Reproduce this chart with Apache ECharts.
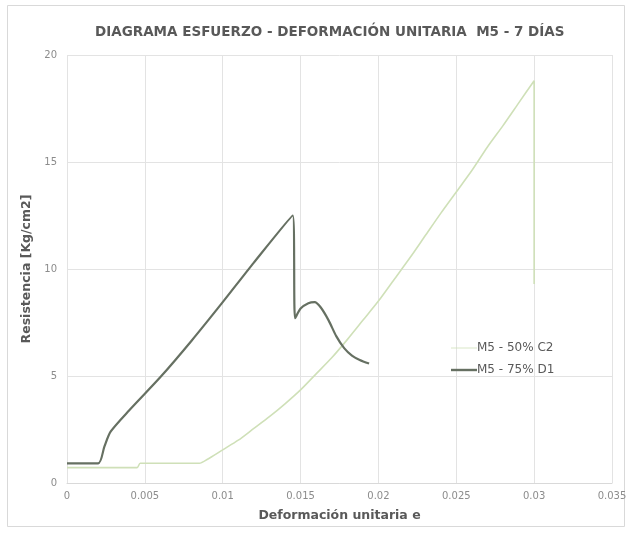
<!DOCTYPE html>
<html>
<head>
<meta charset="utf-8">
<script src="https://cdn.jsdelivr.net/npm/echarts@6/dist/echarts.min.js"></script>
<style>
  html, body { margin: 0; padding: 0; background: #fff; }
  #chart { width: 630px; height: 534px; }
</style>
</head>
<body>
<div id="chart"></div>
<script>
// Stress–strain data, two specimens (strain e, stress Kg/cm2)
const strainC2 = [0, 0.0045, 0.0047, 0.0085, 0.009, 0.010, 0.011, 0.012, 0.013, 0.014, 0.015, 0.016, 0.017, 0.018, 0.019, 0.020, 0.021, 0.022, 0.023, 0.024, 0.025, 0.026, 0.027, 0.028, 0.029, 0.030, 0.030];
const stressC2 = [0.72, 0.72, 0.92, 0.92, 1.1, 1.55, 2.0, 2.55, 3.1, 3.7, 4.35, 5.1, 5.85, 6.7, 7.6, 8.5, 9.5, 10.5, 11.55, 12.6, 13.6, 14.6, 15.7, 16.7, 17.75, 18.8, 9.3];

const strainD1 = [0, 0.002, 0.0024, 0.0028, 0.004, 0.006, 0.008, 0.010, 0.012, 0.0145, 0.01465, 0.015, 0.0155, 0.0159, 0.0163, 0.0168, 0.0173, 0.0178, 0.0183, 0.0188, 0.0194];
const stressD1 = [0.92, 0.92, 1.7, 2.4, 3.4, 4.95, 6.65, 8.45, 10.3, 12.5, 7.7, 8.15, 8.4, 8.45, 8.2, 7.6, 6.85, 6.3, 5.95, 5.75, 5.58];

const seriesNames = ['M5 - 50% C2', 'M5 - 75% D1'];
const xTicks = { min: 0, max: 0.035, interval: 0.005 };
const yTicks = { min: 0, max: 20, interval: 5 };

const pairs = (xs, ys) => xs.map((x, i) => [x, ys[i]]);

const chart = echarts.init(document.getElementById('chart'), null, { renderer: 'canvas' });
chart.setOption({
  backgroundColor: '#ffffff',
  animation: false,
  textStyle: { fontFamily: 'DejaVu Sans, sans-serif' },
  graphic: [{
    type: 'rect',
    shape: { x: 7.5, y: 5.5, width: 617, height: 521 },
    style: { fill: 'none', stroke: '#d9d9d9', lineWidth: 1 },
    silent: true
  }],
  title: {
    text: 'DIAGRAMA ESFUERZO - DEFORMACIÓN UNITARIA  M5 - 7 DÍAS',
    left: 90,
    top: 20,
    textStyle: { fontSize: 13.5, fontWeight: 'bold', color: '#595959' }
  },
  grid: { left: 67, right: 18, top: 55, bottom: 51, containLabel: false },
  legend: {
    orient: 'vertical',
    left: 446,
    top: 337,
    itemWidth: 26,
    itemHeight: 12,
    itemGap: 10,
    textStyle: { fontSize: 12, color: '#595959', padding: [0, 0, 0, -5] },
    data: [
      { name: seriesNames[0], icon: 'path://M0,5.6L26,5.6L26,6.4L0,6.4Z' },
      { name: seriesNames[1], icon: 'path://M0,4.8L26,4.8L26,7.2L0,7.2Z' }
    ]
  },
  xAxis: {
    type: 'value',
    min: xTicks.min, max: xTicks.max, interval: xTicks.interval,
    name: 'Deformación unitaria e',
    nameLocation: 'middle',
    nameGap: 26,
    nameTextStyle: { fontSize: 12.5, fontWeight: 'bold', color: '#595959' },
    axisLine: { show: true, lineStyle: { color: '#d9d9d9' } },
    axisTick: { show: false },
    axisLabel: { fontSize: 10, color: '#8c8c8c', margin: 8, formatter: v => String(+v.toFixed(3)) },
    splitLine: { show: true, lineStyle: { color: '#e3e3e3' } }
  },
  yAxis: {
    type: 'value',
    min: yTicks.min, max: yTicks.max, interval: yTicks.interval,
    name: 'Resistencia [Kg/cm2]',
    nameLocation: 'middle',
    nameGap: 32,
    nameTextStyle: { fontSize: 12.5, fontWeight: 'bold', color: '#595959' },
    axisLine: { show: false },
    axisTick: { show: false },
    axisLabel: { fontSize: 10, color: '#8c8c8c', margin: 10 },
    splitLine: { show: true, lineStyle: { color: '#e3e3e3' } }
  },
  series: [
    {
      name: seriesNames[0],
      type: 'line',
      data: pairs(strainC2, stressC2),
      showSymbol: false,
      smooth: 0.25,
      color: '#cfe0b8',
      lineStyle: { width: 1.6, color: '#cfe0b8' }
    },
    {
      name: seriesNames[1],
      type: 'line',
      data: pairs(strainD1, stressD1),
      showSymbol: false,
      smooth: 0.25,
      color: '#667062',
      lineStyle: { width: 2.2, color: '#667062' }
    }
  ]
});
</script>
</body>
</html>
